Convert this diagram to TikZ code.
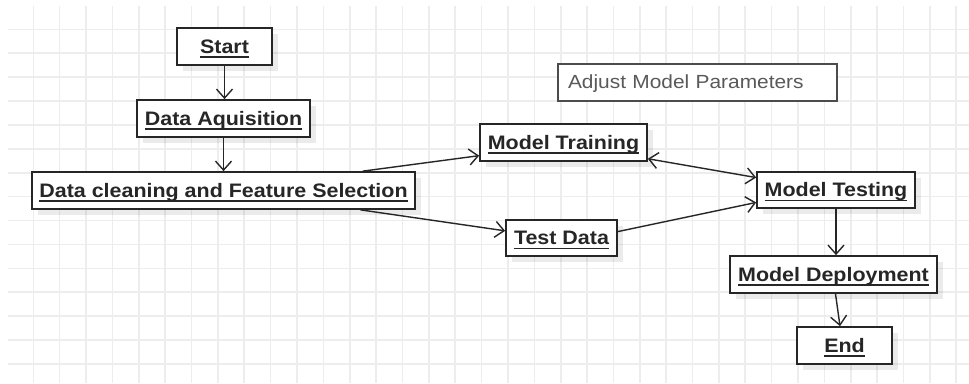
\documentclass[tikz,border=0pt]{standalone}
\usepackage{fontspec}
\setmainfont{Liberation Sans}[FakeStretch=1.1]
\usetikzlibrary{arrows.meta,shadows,calc}

% underlined label with a fixed rule just under the baseline
\newsavebox\ulsave
\newcommand{\ulbox}[1]{\sbox\ulsave{#1}\rlap{\rule[-4.5pt]{\wd\ulsave}{1.5pt}}\usebox\ulsave}

\definecolor{gridgray}{HTML}{EDEDED}
\definecolor{inkgray}{HTML}{262626}

\tikzset{
  stepbox/.style={draw=inkgray, line width=1.7pt, fill=white, inner sep=0pt,
    text height=16pt, text depth=3pt, text=inkgray,
    font=\fontsize{19.5pt}{22pt}\selectfont\bfseries,
    drop shadow={shadow xshift=6pt, shadow yshift=-6pt, fill=black, opacity=0.08}},
  notebox/.style={draw=black!70, line width=1.4pt, fill=white, inner sep=0pt,
    inner xsep=10pt, text width=259pt, align=left, minimum height=37pt,
    text height=15pt, text depth=3pt, text=black!65,
    font=\fontsize{19pt}{22pt}\selectfont},
  conn/.style={draw=inkgray, line width=1.4pt,
    -{Straight Barb[length=9pt,width=16pt]}},
  biconn/.style={draw=inkgray, line width=1.4pt,
    {Straight Barb[length=9pt,width=16pt]}-{Straight Barb[length=9pt,width=16pt]}}
}

\begin{document}
\begin{tikzpicture}[x=1pt,y=-1pt]
  \useasboundingbox (0,0) rectangle (969,383);
  \fill[white] (0,0) rectangle (969,383);

  % background grid
  \begin{scope}
    \clip (8,6) rectangle (969,383);
    \foreach \k in {0,...,35} {
      \draw[gridgray, line width=1.6pt] ({33.3+26.37*\k},6) -- ({33.3+26.37*\k},383);
    }
    \foreach \k in {0,...,15} {
      \draw[gridgray, line width=1.6pt] (8,{29.3+23.9*\k}) -- (969,{29.3+23.9*\k});
    }
  \end{scope}

  % process steps
  \node[stepbox, minimum width=95pt,  minimum height=37pt] (start)   at (224.5,46.5) {\ulbox{Start}};
  \node[stepbox, minimum width=173pt, minimum height=37pt] (acq)     at (223.5,118.5) {\ulbox{Data Aquisition}};
  \node[stepbox, minimum width=383pt, minimum height=37pt] (clean)   at (223.5,190.5) {\ulbox{Data cleaning and Feature Selection}};
  \node[stepbox, minimum width=167pt, minimum height=37pt] (train)   at (563.5,142.5) {\ulbox{Model Training}};
  \node[stepbox, minimum width=111pt, minimum height=36pt] (testdat) at (561.5,238) {\ulbox{Test Data}};
  \node[stepbox, minimum width=158pt, minimum height=36pt] (testing) at (836,190) {\ulbox{Model Testing}};
  \node[stepbox, minimum width=207pt, minimum height=37pt] (deploy)  at (833.5,274.5) {\ulbox{Model Deployment}};
  \node[stepbox, minimum width=95pt,  minimum height=37pt] (end)     at (844.5,345.5) {\ulbox{End}};

  % free note
  \node[notebox] (adjust) at (697.5,82.5) {Adjust Model Parameters};

  % connectors
  \draw[conn] (start.south) -- (start.south |- acq.north);
  \draw[conn] (acq.south) -- (acq.south |- clean.north);
  \draw[conn] ($(clean.north west)!0.862!(clean.north east)$)
           -- ($(train.north west)!0.84!(train.south west)$);
  \draw[conn] ($(clean.south west)!0.856!(clean.south east)$)
           -- ($(testdat.north west)!0.31!(testdat.south west)$);
  \draw[biconn] ($(train.north east)!0.92!(train.south east)$)
             -- ($(testing.north west)!0.17!(testing.south west)$);
  \draw[conn] ($(testdat.north east)!0.33!(testdat.south east)$)
           -- ($(testing.north west)!0.83!(testing.south west)$);
  \draw[conn] (testing.south) -- (testing.south |- deploy.north);
  \draw[conn] ($(deploy.south)+(2,0)$) -- ($(end.north)+(-4.5,0)$);
\end{tikzpicture}
\end{document}
